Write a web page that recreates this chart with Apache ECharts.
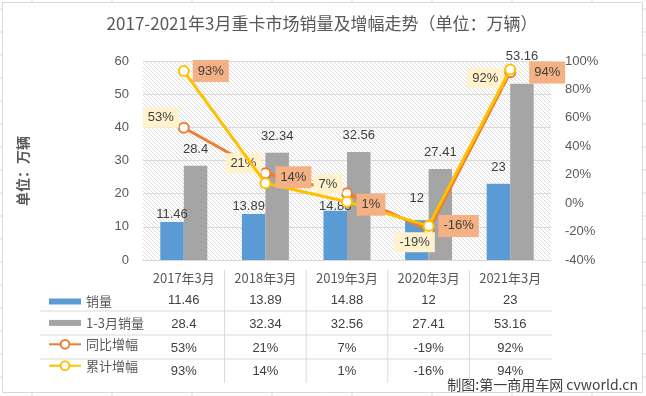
<!DOCTYPE html>
<html><head><meta charset="utf-8">
<script src="https://cdn.jsdelivr.net/npm/echarts@6/dist/echarts.min.js"></script>
<style>html,body{margin:0;padding:0;background:#fff}#c{width:646px;height:396px}</style>
</head><body><div id="c"></div>
<script>
// ---- data ----
const categories = ['2017年3月', '2018年3月', '2019年3月', '2020年3月', '2021年3月'];
const marchSales = [11.46, 13.89, 14.88, 12, 23];
const q1Sales = [28.4, 32.34, 32.56, 27.41, 53.16];
const yoyGrowth = [53, 21, 7, -19, 92];
const cumGrowth = [93, 14, 1, -16, 94];
const seriesNames = ['销量', '1-3月销量', '同比增幅', '累计增幅'];
const leftAxis = { min: 0, max: 60, interval: 10 };
const rightAxis = { min: -40, max: 100, interval: 20 };

// ---- label placement (styles) ----
const marchLabelDist = [1, 1, -2, 15, 10];
const marchLabelOff = [[0, 0], [-5, 0], [0, 0], [0, 0], [0, 0]];
const q1LabelDist = [10, 10, 10, 10, 21];
const yoyLabelOff = [[-23, -10], [-22, -10], [-19, -9], [-14, 12], [-25, 6]];
const cumLabelOff = [[27, 0], [28, -6], [24, 3], [30, 0], [37, 3]];

const FONT = '"Liberation Sans","Noto Sans CJK SC",sans-serif';
const CJK = '"Noto Sans CJK SC","Liberation Sans",sans-serif';

const pc = document.createElement('canvas');
pc.width = 8; pc.height = 8;
const g = pc.getContext('2d');
g.fillStyle = '#fff'; g.fillRect(0, 0, 8, 8);
g.strokeStyle = '#dcdcdc'; g.lineWidth = 1;
g.beginPath();
for (let c = -8; c <= 8; c += 4) { g.moveTo(c, 0); g.lineTo(c + 8, 8); }
g.stroke();

const chart = echarts.init(document.getElementById('c'));

const tableRows = [
  { vals: marchSales, fmt: v => String(v), off: 22 },
  { vals: q1Sales, fmt: v => String(v), off: 45.5 },
  { vals: yoyGrowth, fmt: v => v + '%', off: 69.5 },
  { vals: cumGrowth, fmt: v => v + '%', off: 92.5 }
];

const xAxes = [{
  type: 'category', data: categories, gridIndex: 0,
  axisLine: { lineStyle: { color: '#d9d9d9', width: 1 } },
  axisTick: { show: false },
  axisLabel: { margin: 12, fontSize: 13, color: '#595959', fontFamily: CJK }
}].concat(tableRows.map(r => ({
  type: 'category', data: categories, position: 'bottom', offset: r.off,
  axisLine: { show: false }, axisTick: { show: false }, splitLine: { show: false },
  axisLabel: { margin: 12, fontSize: 13, color: '#404040', fontFamily: FONT,
    formatter: (v, i) => r.fmt(r.vals[i]) }
})));

const labelBase = { show: true, fontSize: 13, color: '#404040', fontFamily: FONT };

const hLines = [311, 335, 359].map(y => ({
  type: 'line', silent: true, shape: { x1: 40, y1: y, x2: 552, y2: y },
  style: { stroke: '#d9d9d9', lineWidth: 1 }
}));
const vLines = [224.6, 306.2, 387.8, 469.4].map(x => ({
  type: 'line', silent: true, shape: { x1: x, y1: 270, x2: x, y2: 383 },
  style: { stroke: '#d9d9d9', lineWidth: 1 }
}));
const cellMarks = [];
for (let y = 9; y < 396; y += 23) {
  cellMarks.push({ type: 'line', silent: true, shape: { x1: 0, y1: y, x2: 2, y2: y }, style: { stroke: '#d9d9d9' } });
  cellMarks.push({ type: 'line', silent: true, shape: { x1: 642, y1: y, x2: 646, y2: y }, style: { stroke: '#d9d9d9' } });
}
for (let x = 32; x < 646; x += 80) {
  cellMarks.push({ type: 'line', silent: true, shape: { x1: x, y1: 0, x2: x, y2: 2 }, style: { stroke: '#d9d9d9' } });
  cellMarks.push({ type: 'line', silent: true, shape: { x1: x, y1: 392, x2: x, y2: 396 }, style: { stroke: '#d9d9d9' } });
}

chart.setOption({
  animation: false,
  backgroundColor: '#fff',
  title: {
    text: '2017-2021年3月重卡市场销量及增幅走势（单位：万辆）',
    left: 317, top: 10, textAlign: 'center',
    textStyle: { fontSize: 17, fontWeight: 'normal', color: '#595959', fontFamily: CJK }
  },
  legend: {
    orient: 'vertical', left: 43, top: 290, itemWidth: 32, itemHeight: 11, itemGap: 8.4,
    textStyle: { fontSize: 13, color: '#595959', fontFamily: CJK },
    data: [
      { name: seriesNames[0], icon: 'path://M0,0M0,11M0,2.5H32V8.5H0Z' },
      { name: seriesNames[1], icon: 'path://M0,0M0,11M0,2.5H32V8.5H0Z' },
      { name: seriesNames[2] },
      { name: seriesNames[3] }
    ]
  },
  grid: {
    left: 143, right: 95, top: 61, bottom: 136, show: true,
    backgroundColor: { image: pc, repeat: 'repeat' }, borderWidth: 0
  },
  xAxis: xAxes,
  yAxis: [{
    type: 'value', min: leftAxis.min, max: leftAxis.max, interval: leftAxis.interval,
    axisLine: { show: false }, axisTick: { show: false },
    splitLine: { lineStyle: { color: '#d9d9d9', width: 1 } },
    axisLabel: { margin: 14, fontSize: 13, color: '#595959', fontFamily: FONT }
  }, {
    type: 'value', min: rightAxis.min, max: rightAxis.max, interval: rightAxis.interval,
    axisLine: { show: false }, axisTick: { show: false }, splitLine: { show: false },
    axisLabel: { margin: 14, fontSize: 13, color: '#595959', fontFamily: FONT, formatter: '{value}%' }
  }],
  series: [{
    name: seriesNames[0], type: 'bar', barWidth: 23.5, barGap: '0%',
    itemStyle: { color: '#5B9BD5' },
    data: marchSales.map((v, i) => ({ value: v, label: { distance: marchLabelDist[i], offset: marchLabelOff[i] } })),
    label: Object.assign({ position: 'top' }, labelBase)
  }, {
    name: seriesNames[1], type: 'bar', barWidth: 23.5, barGap: '0%',
    itemStyle: { color: '#A5A5A5' },
    data: q1Sales.map((v, i) => ({ value: v, label: { distance: q1LabelDist[i] } })),
    label: Object.assign({ position: 'top' }, labelBase)
  }, {
    name: seriesNames[2], type: 'line', yAxisIndex: 1, z: 3,
    symbol: 'emptyCircle', symbolSize: 10,
    lineStyle: { color: '#ED7D31', width: 3 },
    itemStyle: { color: '#ED7D31', borderWidth: 2.5 },
    data: yoyGrowth.map((v, i) => ({ value: v, label: { offset: yoyLabelOff[i] } })),
    label: Object.assign({ position: 'inside', formatter: '{c}%', backgroundColor: '#FFF2CC', padding: [4, 5, 3, 5] }, labelBase)
  }, {
    name: seriesNames[3], type: 'line', yAxisIndex: 1, z: 4,
    symbol: 'emptyCircle', symbolSize: 10,
    lineStyle: { color: '#FFC000', width: 3 },
    itemStyle: { color: '#FFC000', borderWidth: 2.5 },
    data: cumGrowth.map((v, i) => ({ value: v, label: { offset: cumLabelOff[i] } })),
    label: Object.assign({ position: 'inside', formatter: '{c}%', backgroundColor: '#F4B183', padding: [5, 5, 4, 5] }, labelBase)
  }],
  graphic: [{
    type: 'rect', silent: true, z: -10, shape: { x: 2.5, y: 2.5, width: 640, height: 390 },
    style: { fill: null, stroke: '#d9d9d9', lineWidth: 1 }
  }, {
    type: 'text', silent: true, x: 23, y: 171, rotation: Math.PI / 2,
    style: { text: '单位：万辆', font: 'bold 14px "Noto Sans CJK SC"', fill: '#595959', align: 'center', verticalAlign: 'middle' }
  }, {
    type: 'text', silent: true, x: 638, y: 385,
    style: { text: '制图:第一商用车网 cvworld.cn', font: '14px "Noto Sans CJK SC","Liberation Sans"', fill: '#404040', align: 'right', verticalAlign: 'middle' }
  }].concat(hLines, vLines, cellMarks)
});
</script>
</body></html>
